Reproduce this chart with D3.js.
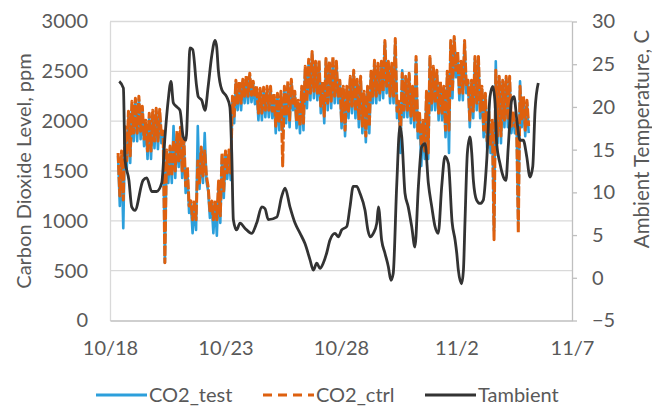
<!DOCTYPE html>
<html>
<head>
<meta charset="utf-8">
<script src="https://cdn.jsdelivr.net/npm/d3@7"></script>
<style>
  body { margin: 0; background: #fff; }
  text { font-family: Lato, "Open Sans", sans-serif; fill: #595959; }
</style>
</head>
<body>
<svg></svg>
<script>
// ---- data ----
var xTickLabels = ["10/18", "10/23", "10/28", "11/2", "11/7"];
var co2Ticks = [0, 500, 1000, 1500, 2000, 2500, 3000];
var tempTicks = [-5, 0, 5, 10, 15, 20, 25, 30];
var seriesNames = ["CO2_test", "CO2_ctrl", "Tambient"];

// CO2 logger samples: first sample 0.35 days after 10/18, then every 0.075 days
var co2Start = 0.35, co2Step = 0.075;
var co2Test = [
  1650,1150, 1650,925, 1900,1520, 2070,1580, 2170,1800,
  2200,1800, 2220,1820, 2120,1750, 1980,1620, 2050,1620,
  2080,1730, 2100,1720, 2090,1780, 1870,580, 1690,1380,
  1720,1380, 1950,1430, 1870,1540, 1900,1430, 1790,1280,
  1500,1080, 1170,875, 1150,908, 1950,1320, 1700,1380,
  1880,1400, 1300,1030, 1170,875, 1180,850, 1370,980,
  1650,1230, 1670,1420, 1680,1410, 2220,1980, 2380,2110,
  2370,2110, 2400,2180, 2430,2180, 2460,2190, 2370,2170,
  2320,2010, 2300,2010, 2310,2040, 2320,2040, 2320,2030,
  2250,1880, 2250,1910, 2270,1900, 2320,1980, 2370,1940,
  2400,2110, 2270,1930, 2180,1880, 2320,1910, 2520,2130,
  2590,2210, 2680,2230, 2570,2210, 2590,2080, 2370,1980,
  2610,2110, 2570,2130, 2620,2180, 2570,2180, 2390,1930,
  2320,1850, 2320,2030, 2420,2080, 2490,2030, 2390,1940,
  2430,1880, 2270,1790, 2330,1880, 2470,2180, 2590,2180,
  2550,2210, 2570,2230, 2790,2280, 2570,2180, 2550,2180,
  2800,2030, 2170,1680, 2510,2040, 2420,2040, 2460,1980,
  2320,1940, 2620,1830, 2050,1550, 1990,1620, 2270,1620,
  2630,2110, 2520,2110, 2490,2010, 2370,2010, 2330,1840,
  2470,1680, 2790,2230, 2830,2440, 2680,2210, 2570,2210,
  2790,2280, 2390,1940, 2390,2030, 2630,2110, 2630,2030,
  2320,1840, 2260,1730, 2070,1680, 1990,900, 2600,1780,
  2420,1780, 2390,1940, 2430,1940, 2430,1880, 2080,1880,
  1980,1000, 2400,1940, 2230,1850, 2190,1880];
var co2Ctrl = [
  1680,1250, 1700,1210, 1945,1600, 2100,1650, 2200,1880,
  2230,1880, 2250,1900, 2150,1820, 2010,1700, 2080,1700,
  2110,1800, 2130,1800, 2120,1850, 1900,580, 1710,1450,
  1750,1450, 1810,1500, 1900,1600, 1940,1500, 1820,1350,
  1540,1150, 1200,1010, 1210,1010, 1600,1380, 1740,1450,
  1700,1450, 1340,1100, 1200,1010, 1210,1010, 1400,1050,
  1680,1300, 1700,1480, 1710,1480, 2250,2050, 2410,2180,
  2400,2180, 2420,2250, 2460,2250, 2480,2260, 2400,2240,
  2350,2080, 2330,2080, 2340,2110, 2350,2110, 2350,2100,
  2280,1950, 2280,1980, 2300,1550, 2350,2050, 2400,2010,
  2420,2180, 2300,2000, 2210,1950, 2350,1980, 2550,2200,
  2620,2280, 2700,2300, 2600,2280, 2610,2150, 2400,2050,
  2630,2180, 2600,2200, 2650,2250, 2600,2250, 2410,2000,
  2350,1910, 2350,2100, 2450,2150, 2510,2100, 2420,2010,
  2450,1950, 2300,1850, 2350,1950, 2500,2250, 2610,2250,
  2580,2280, 2600,2300, 2810,2350, 2600,2250, 2580,2250,
  2830,2100, 2200,1850, 2480,2110, 2450,2110, 2480,2050,
  2350,2010, 2650,1900, 2080,1750, 2010,1700, 2300,1680,
  2650,2180, 2550,2180, 2510,2080, 2400,2080, 2350,1910,
  2500,1910, 2810,2300, 2850,2510, 2700,2280, 2600,2280,
  2810,2350, 2410,2010, 2410,2100, 2650,2180, 2650,2100,
  2350,1910, 2280,1800, 2100,1750, 2010,810, 2510,1850,
  2450,1850, 2410,2010, 2450,2010, 2450,1950, 2100,1950,
  2000,880, 2350,2010, 2250,1910, 2210,1950];

// ambient temperature: days after 10/18 and degrees C
var tempDay = [0.40,0.58,0.65,0.82,0.94,1.08,1.43,1.59,1.81,2.02,
  2.24,2.38,2.52,2.64,2.74,2.89,3.03,3.17,3.29,3.39,
  3.46,3.58,3.75,3.82,3.97,4.11,4.25,4.40,4.55,4.62,
  4.69,4.84,5.05,5.19,5.27,5.34,5.48,5.63,5.84,6.13,
  6.35,6.57,6.71,6.85,7.22,7.43,7.58,7.79,8.01,8.23,
  8.44,8.66,8.80,8.95,9.09,9.23,9.38,9.52,9.74,9.88,
  10.03,10.25,10.39,10.53,10.68,10.82,11.04,11.17,11.26,11.40,
  11.55,11.62,11.76,11.90,12.05,12.16,12.26,12.41,12.55,12.63,
  12.77,12.91,13.06,13.20,13.35,13.49,13.64,13.78,13.93,14.07,
  14.21,14.36,14.50,14.65,14.81,14.94,15.01,15.08,15.22,15.30,
  15.37,15.47,15.58,15.66,15.73,15.87,16.02,16.16,16.31,16.45,
  16.57,16.67,16.74,16.88,17.03,17.14,17.24,17.39,17.49,17.61,
  17.75,17.89,18.04,18.18,18.30,18.40,18.54];
var tempC = [23.0,22.2,13.8,11.4,8.3,7.9,11.4,11.7,10.1,10.1,
  11.1,16.5,20.8,23.0,20.5,20.0,19.6,16.5,16.1,22.4,
  26.9,26.7,22.4,21.2,20.8,19.6,22.4,25.9,27.8,27.0,
  24.3,22.0,21.2,20.0,14.6,6.8,5.6,6.4,5.8,5.2,
  6.4,8.3,8.1,6.8,7.1,9.5,10.5,8.3,6.4,5.2,
  4.0,2.1,0.9,1.7,1.1,1.7,2.9,4.4,5.2,4.8,
  5.6,6.0,8.3,10.7,10.7,9.9,7.9,5.5,4.8,5.2,
  6.4,8.3,4.4,2.9,1.3,-0.3,0.5,10.7,17.7,16.5,
  9.9,8.3,6.0,3.6,10.7,15.3,15.7,11.1,8.3,6.0,
  5.2,10.7,14.2,13.4,6.5,4.4,2.9,0.9,-0.7,0.9,
  6.8,14.6,16.5,14.6,11.4,9.1,8.7,9.1,13.8,21.2,
  22.4,20.4,15.7,13.4,11.8,11.4,15.3,20.8,21.2,18.5,
  16.1,16.1,14.2,11.8,13.0,19.6,22.8];

// ---- layout ----
var svgWidth = 652, svgHeight = 407;
var margin = {top: 21.5, right: 80, bottom: 86.5, left: 110},
    width = svgWidth - margin.left - margin.right,
    height = svgHeight - margin.top - margin.bottom;

var colTest = "#2c9fdb", colCtrl = "#de600f", colTemp = "#333333";
var fontSize = "20px";

var day0 = Date.UTC(2018, 9, 18);
function toDate(d) { return new Date(day0 + d * 864e5); }
function parseTick(s) {
  var p = s.split("/");
  return new Date(Date.UTC(2018, +p[0] - 1, +p[1]));
}

var svg = d3.select("svg").attr("width", svgWidth).attr("height", svgHeight);
svg.append("rect").attr("width", svgWidth).attr("height", svgHeight).attr("fill", "#fff");

var g = svg.append("g").attr("transform", "translate(" + margin.left + "," + margin.top + ")");

var xTickDates = xTickLabels.map(parseTick);
var xScale = d3.scaleUtc()
    .domain([xTickDates[0], xTickDates[xTickDates.length - 1]])
    .range([0, width]);
var yLeft = d3.scaleLinear().domain([0, 3000]).range([height, 0]);
var yRight = d3.scaleLinear().domain([-5, 30]).range([height, 0]);

// gridlines
g.selectAll(".grid")
  .data(co2Ticks.slice(1))
  .enter().append("line")
  .attr("class", "grid")
  .attr("x1", 0).attr("x2", width)
  .attr("y1", function(d) { return yLeft(d); })
  .attr("y2", function(d) { return yLeft(d); })
  .attr("stroke", "#d9d9d9").attr("stroke-width", 1.3);

// left axis (labels only, light frame line)
var leftAxis = g.append("g")
  .call(d3.axisLeft(yLeft).tickValues(co2Ticks).tickSize(0).tickPadding(22)
    .tickFormat(d3.format("d")));
leftAxis.select(".domain").attr("stroke", "#d9d9d9").attr("stroke-width", 1.3);
leftAxis.selectAll("text").style("font-size", fontSize).attr("fill", "#595959");

// bottom axis
var bottomAxis = g.append("g")
  .attr("transform", "translate(0," + height + ")")
  .call(d3.axisBottom(xScale).tickValues(xTickDates).tickSize(0).tickPadding(20)
    .tickFormat(function(d, i) { return xTickLabels[i]; }));
bottomAxis.select(".domain").attr("stroke", "#bfbfbf").attr("stroke-width", 1.3);
bottomAxis.selectAll("text").style("font-size", fontSize).attr("fill", "#595959");

// right axis
var rightAxis = g.append("g")
  .attr("transform", "translate(" + width + ",0)")
  .call(d3.axisRight(yRight).tickValues(tempTicks).tickSize(5).tickPadding(15).tickSizeOuter(0)
    .tickFormat(d3.format("d")));
rightAxis.select(".domain").attr("stroke", "#bfbfbf").attr("stroke-width", 1.3);
rightAxis.selectAll(".tick line").attr("stroke", "#bfbfbf").attr("stroke-width", 1.3);
rightAxis.selectAll("text").style("font-size", fontSize).attr("fill", "#595959");

// axis titles
svg.append("text")
  .text("Carbon Dioxide Level, ppm")
  .attr("transform", "translate(24," + (margin.top + height / 2) + ") rotate(-90)")
  .attr("text-anchor", "middle").attr("dy", "0.35em")
  .style("font-size", fontSize);

svg.append("text")
  .text("Ambient Temperature, C")
  .attr("transform", "translate(642,139) rotate(-90)")
  .attr("text-anchor", "middle").attr("dy", "0.35em")
  .style("font-size", "20.5px");

// series
var co2Line = d3.line()
  .x(function(d, i) { return xScale(toDate(co2Start + co2Step * i)); })
  .y(function(d) { return yLeft(d); });

var tempLine = d3.line()
  .curve(d3.curveMonotoneX)
  .x(function(d, i) { return xScale(toDate(tempDay[i])); })
  .y(function(d) { return yRight(d); });

g.append("path")
  .datum(co2Test)
  .attr("d", co2Line)
  .attr("fill", "none")
  .attr("stroke", colTest)
  .attr("stroke-width", 2.6)
  .attr("stroke-linejoin", "round");

g.append("path")
  .datum(co2Ctrl)
  .attr("d", co2Line)
  .attr("fill", "none")
  .attr("stroke", colCtrl)
  .attr("stroke-width", 3)
  .attr("stroke-dasharray", "10,2")
  .attr("stroke-linejoin", "round");

g.append("path")
  .datum(tempC)
  .attr("d", tempLine)
  .attr("fill", "none")
  .attr("stroke", colTemp)
  .attr("stroke-width", 2.8)
  .attr("stroke-linejoin", "round");

// legend
var legendItems = [
  {name: seriesNames[0], color: colTest, dash: null, x: 96},
  {name: seriesNames[1], color: colCtrl, dash: "9,6", x: 263},
  {name: seriesNames[2], color: colTemp, dash: null, x: 425}
];
var legend = svg.append("g").attr("transform", "translate(0,395)");
legendItems.forEach(function(it) {
  legend.append("line")
    .attr("x1", it.x).attr("x2", it.x + 51)
    .attr("y1", 0).attr("y2", 0)
    .attr("stroke", it.color)
    .attr("stroke-width", 3)
    .attr("stroke-dasharray", it.dash);
  legend.append("text")
    .text(it.name)
    .attr("x", it.x + 53)
    .attr("dy", "0.35em")
    .style("font-size", fontSize);
});
</script>
</body>
</html>
